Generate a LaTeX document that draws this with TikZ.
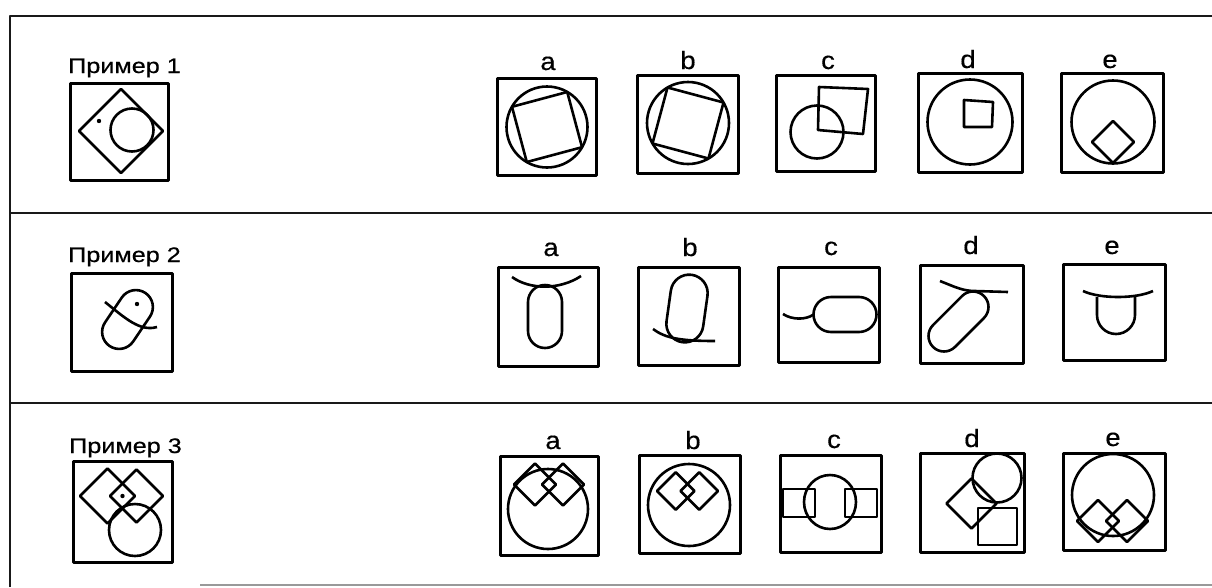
\documentclass[tikz,border=0pt]{standalone}
\usepackage{fontspec}
\newfontfamily\widefont[FakeStretch=1.2,FakeBold=0.6]{Liberation Sans}
\newfontfamily\labfont[FakeStretch=1.1,FakeBold=0.4]{Liberation Sans}
\newcommand\pillshape[4]{%
  \begin{scope}[shift={#1},rotate=#2]
    \draw[fig,rounded corners=#4pt] (-#3,-#4) -- (#3,-#4) -- (#3,#4) -- (-#3,#4) -- cycle;
  \end{scope}}
\newcommand\dmd[2]{\draw[fig] #1 ++(-#2,0) -- ++(#2,-#2) -- ++(#2,#2) -- ++(-#2,#2) -- cycle;}
\begin{document}
\begin{tikzpicture}[x=1pt,y=-1pt,line join=round,
  frame/.style={line width=2.6pt,black!90},
  box/.style={line width=3pt},
  fig/.style={line width=2.6pt},
  title/.style={anchor=base west,inner sep=0pt,font=\widefont\fontsize{21}{21}\selectfont},
  lab/.style={anchor=base,inner sep=0pt,font=\labfont\fontsize{25}{25}\selectfont}]
\useasboundingbox (0,0) rectangle (1212,587);
% frame
\draw[frame] (10,587) -- (10,16) -- (1212,16);
\draw[frame] (10,213) -- (1212,213);
\draw[frame] (10,403) -- (1212,403);
\draw[line width=1.4pt,black!40] (200,585) -- (1212,585);

% ---------- Row 1 ----------
\node[title] (t1) at (68,73) {Пример 1};
\draw[box] (70,83) rectangle (168,180);
\draw[fig] (79,131) -- (121,89) -- (163,131) -- (121,173) -- cycle;
\draw[fig] (132,130) circle[radius=21.5];
\fill (99,121) circle[radius=2.2];

\node[lab] (l1a) at (548,70) {a};
\node[lab] (l1b) at (688,69) {b};
\node[lab] (l1c) at (828,69) {c};
\node[lab] (l1d) at (968,68) {d};
\node[lab] (l1e) at (1110,68) {e};

\draw[box] (497,78) rectangle (596,175);
\draw[fig] (547,127) circle[radius=40.5];
\begin{scope}[shift={(547,127)},rotate=15]
  \draw[fig] (-28.6,-28.6) -- (28.6,-28.6) -- (28.6,28.6) -- (-28.6,28.6) -- cycle;
\end{scope}

\draw[box] (637,75) rectangle (738,173);
\draw[fig] (688,123) circle[radius=41];
\begin{scope}[shift={(688,123)},rotate=-15]
  \draw[fig] (-29,-29) -- (29,-29) -- (29,29) -- (-29,29) -- cycle;
\end{scope}

\draw[box] (776,75) rectangle (875,171);
\draw[fig] (817,132) circle[radius=26.5];
\draw[fig] (819,87) -- (868,89) -- (863,134) -- (818,130) -- cycle;

\draw[box] (918,73) rectangle (1022,172);
\draw[fig] (970,122) circle[radius=42.5];
\draw[fig] (964,100) -- (993,102) -- (992,127) -- (964,127) -- cycle;

\draw[box] (1061,73) rectangle (1163,172);
\draw[fig] (1113,122) circle[radius=41.5];
\dmd{(1113,142)}{21}

% ---------- Row 2 ----------
\node[title] (t2) at (68,262) {Пример 2};
\draw[box] (71,273) rectangle (172,371);
\pillshape{(127.5,319.5)}{56}{32}{17}
\draw[fig] (105,302) .. controls (125,318) and (140,332) .. (157,327);
\fill (137,304) circle[radius=2.2];

\node[lab] (l2a) at (551,256) {a};
\node[lab] (l2b) at (690,256) {b};
\node[lab] (l2c) at (831,255) {c};
\node[lab] (l2d) at (971,254) {d};
\node[lab] (l2e) at (1112,254) {e};

\draw[box] (498,267) rectangle (598,366);
\pillshape{(545,316.5)}{90}{31.5}{17}
\draw[fig] (512,277) .. controls (530,290) and (560,290) .. (581,276);

\draw[box] (638,267) rectangle (739,365);
\pillshape{(687,308.5)}{82}{34}{18.5}
\draw[fig] (653,329) .. controls (665,338) and (680,341) .. (715,341);

\draw[box] (778,267) rectangle (879,362);
\pillshape{(845,314.5)}{0}{31.5}{17.5}
\draw[fig] (783,314) .. controls (792,320) and (806,320) .. (813.5,314.5);

\draw[box] (920,265) rectangle (1023,363);
\pillshape{(958.5,321.5)}{45}{36}{15.5}
\draw[fig] (940,281) .. controls (955,287) and (963,291) .. (975,291) -- (1008,292);

\draw[box] (1063,264) rectangle (1165,360);
\draw[fig] (1083,291) .. controls (1100,299) and (1136,299) .. (1153,291);
\draw[fig,rounded corners=19pt] (1097,297) -- (1097,334) -- (1135,334) -- (1135,297);

% ---------- Row 3 ----------
\node[title] (t3) at (69,453) {Пример 3};
\draw[box] (73,461) rectangle (172,562);
\dmd{(107.5,496)}{27.5}
\dmd{(136.5,496)}{26.5}
\draw[fig] (135,530) circle[radius=26];
\fill (122.5,496) circle[radius=2.2];

\node[lab] (l3a) at (553,449) {a};
\node[lab] (l3b) at (693,449) {b};
\node[lab] (l3c) at (834,448) {c};
\node[lab] (l3d) at (972,447) {d};
\node[lab] (l3e) at (1113,446) {e};

\draw[box] (500,456) rectangle (598,555);
\draw[fig] (548,509) circle[radius=40];
\dmd{(535,484.5)}{21}
\dmd{(563,484.5)}{21}

\draw[box] (639,455) rectangle (740,553);
\draw[fig] (689,505) circle[radius=41];
\dmd{(675.75,491)}{18.75}
\dmd{(699.25,491)}{18.75}

\draw[box] (780,455) rectangle (881,552);
\draw[fig] (830,502) circle[x radius=26,y radius=27];
\draw[fig] (783,489) rectangle (815,517);
\draw[fig] (845,489) rectangle (877,517);

\draw[box] (920,453) rectangle (1024,552);
\draw[fig] (997,478) circle[radius=24.5];
\dmd{(971.5,503.5)}{25}
\draw[fig] (978,508) rectangle (1017,545);

\draw[box] (1063,453) rectangle (1165,550);
\draw[fig] (1113,495) circle[radius=41];
\dmd{(1098,521)}{21}
\dmd{(1127,521)}{21}
\end{tikzpicture}
\end{document}
